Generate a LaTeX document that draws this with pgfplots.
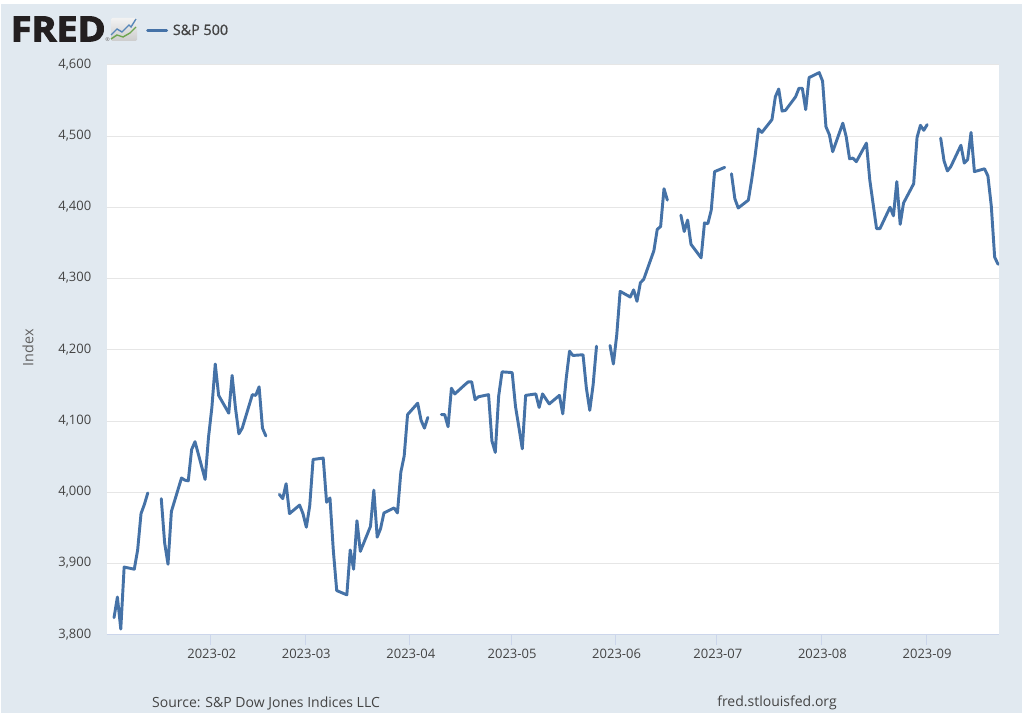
\documentclass[border=0pt]{standalone}
\usepackage{fontspec}
\setmainfont{Open Sans}
\newfontfamily\legendfont{Open Sans}[FakeBold=1.0]
\newfontfamily\logofont{Open Sans Bold}[FakeBold=3]
\usepackage{pgfplots}
\usepackage{pgfplotstable}
\pgfplotsset{compat=1.18}
\usepgfplotslibrary{dateplot}
\definecolor{fredbg}{RGB}{225,233,240}
\definecolor{fredline}{RGB}{69,114,167}
\definecolor{fredaxis}{RGB}{204,214,235}
\definecolor{fredgrid}{RGB}{230,230,230}
\definecolor{fredtext}{RGB}{68,68,68}
\definecolor{fredlogo}{RGB}{35,31,32}
\definecolor{iconblue}{RGB}{88,135,185}
\definecolor{icongreen}{RGB}{110,165,80}

% S&P 500 daily close, nan on market holidays (line breaks there)
\pgfplotstableread{
date close
2023-01-03 3824
2023-01-04 3853
2023-01-05 3808
2023-01-06 3895
2023-01-09 3892
2023-01-10 3919
2023-01-11 3970
2023-01-12 3983
2023-01-13 3999
2023-01-16 nan
2023-01-17 3991
2023-01-18 3929
2023-01-19 3899
2023-01-20 3973
2023-01-23 4020
2023-01-24 4017
2023-01-25 4016
2023-01-26 4060
2023-01-27 4071
2023-01-30 4018
2023-01-31 4077
2023-02-01 4119
2023-02-02 4180
2023-02-03 4136
2023-02-06 4111
2023-02-07 4164
2023-02-08 4118
2023-02-09 4082
2023-02-10 4090
2023-02-13 4137
2023-02-14 4136
2023-02-15 4148
2023-02-16 4090
2023-02-17 4079
2023-02-20 nan
2023-02-21 3997
2023-02-22 3991
2023-02-23 4012
2023-02-24 3970
2023-02-27 3982
2023-02-28 3970
2023-03-01 3951
2023-03-02 3981
2023-03-03 4046
2023-03-06 4048
2023-03-07 3986
2023-03-08 3992
2023-03-09 3918
2023-03-10 3862
2023-03-13 3856
2023-03-14 3919
2023-03-15 3892
2023-03-16 3960
2023-03-17 3917
2023-03-20 3952
2023-03-21 4003
2023-03-22 3937
2023-03-23 3949
2023-03-24 3971
2023-03-27 3978
2023-03-28 3971
2023-03-29 4028
2023-03-30 4051
2023-03-31 4109
2023-04-03 4125
2023-04-04 4101
2023-04-05 4090
2023-04-06 4105
2023-04-07 nan
2023-04-10 4109
2023-04-11 4109
2023-04-12 4092
2023-04-13 4146
2023-04-14 4138
2023-04-17 4151
2023-04-18 4155
2023-04-19 4155
2023-04-20 4130
2023-04-21 4134
2023-04-24 4137
2023-04-25 4072
2023-04-26 4056
2023-04-27 4135
2023-04-28 4169
2023-05-01 4168
2023-05-02 4120
2023-05-03 4091
2023-05-04 4061
2023-05-05 4136
2023-05-08 4138
2023-05-09 4119
2023-05-10 4138
2023-05-11 4131
2023-05-12 4124
2023-05-15 4136
2023-05-16 4110
2023-05-17 4159
2023-05-18 4198
2023-05-19 4192
2023-05-22 4193
2023-05-23 4146
2023-05-24 4115
2023-05-25 4151
2023-05-26 4205
2023-05-29 nan
2023-05-30 4206
2023-05-31 4180
2023-06-01 4221
2023-06-02 4282
2023-06-05 4274
2023-06-06 4284
2023-06-07 4268
2023-06-08 4294
2023-06-09 4299
2023-06-12 4339
2023-06-13 4369
2023-06-14 4373
2023-06-15 4426
2023-06-16 4410
2023-06-19 nan
2023-06-20 4389
2023-06-21 4366
2023-06-22 4382
2023-06-23 4348
2023-06-26 4329
2023-06-27 4378
2023-06-28 4377
2023-06-29 4396
2023-06-30 4450
2023-07-03 4456
2023-07-04 nan
2023-07-05 4447
2023-07-06 4412
2023-07-07 4399
2023-07-10 4410
2023-07-11 4439
2023-07-12 4472
2023-07-13 4510
2023-07-14 4505
2023-07-17 4523
2023-07-18 4555
2023-07-19 4566
2023-07-20 4535
2023-07-21 4536
2023-07-24 4555
2023-07-25 4567
2023-07-26 4567
2023-07-27 4537
2023-07-28 4582
2023-07-31 4589
2023-08-01 4577
2023-08-02 4513
2023-08-03 4502
2023-08-04 4478
2023-08-07 4518
2023-08-08 4499
2023-08-09 4468
2023-08-10 4469
2023-08-11 4464
2023-08-14 4490
2023-08-15 4438
2023-08-16 4404
2023-08-17 4370
2023-08-18 4370
2023-08-21 4400
2023-08-22 4388
2023-08-23 4436
2023-08-24 4376
2023-08-25 4406
2023-08-28 4433
2023-08-29 4498
2023-08-30 4515
2023-08-31 4508
2023-09-01 4516
2023-09-04 nan
2023-09-05 4497
2023-09-06 4465
2023-09-07 4451
2023-09-08 4457
2023-09-11 4487
2023-09-12 4462
2023-09-13 4467
2023-09-14 4505
2023-09-15 4450
2023-09-18 4454
2023-09-19 4444
2023-09-20 4402
2023-09-21 4330
2023-09-22 4320
}\spdata

\begin{document}
% tikz coordinates are image pixels: 1px = 0.75pt, y runs downward
\begin{tikzpicture}[x=0.75pt,y=-0.75pt]
\path[use as bounding box] (0,0) rectangle (1024,717);
\fill[fredbg] (1,4) rectangle (1022,713);

\begin{axis}[
    at={(80.25pt,-476.06pt)},
    anchor=south west,
    scale only axis,
    width=669pt,
    height=427.5pt,
    date coordinates in=x,
    xmin=2022-12-31 22:00,
    xmax=2023-09-22 07:00,
    ymin=3800, ymax=4600,
    % the source draws its ticks a little ahead of the daily points
    xtick={2023-01-31 16:00,2023-02-28 16:00,2023-03-31 16:00,2023-04-30 16:00,2023-05-31 16:00,2023-06-30 16:00,2023-07-31 16:00,2023-08-31 16:00},
    xticklabels={2023-02,2023-03,2023-04,2023-05,2023-06,2023-07,2023-08,2023-09},
    ytick={3800,3900,4000,4100,4200,4300,4400,4500,4600},
    axis x line*=bottom,
    axis y line*=left,
    y axis line style={draw=none},
    x axis line style={draw=fredaxis,line width=0.75pt,-},
    axis background/.style={fill=white},
    ymajorgrids,
    grid style={fredgrid,line width=0.75pt},
    tick align=outside,
    major tick length=7.5pt,
    xtick style={draw=fredaxis,line width=0.75pt},
    ytick style={draw=none},
    tick label style={font=\fontsize{9.75pt}{11pt}\selectfont,text=fredtext},
    xticklabel style={xshift=0.75pt},
    yticklabel style={xshift=-0.75pt,yshift=0.4pt},
    /pgf/number format/assume math mode=true,
    /pgf/number format/1000 sep={,},
    scaled y ticks=false,
    ylabel={Index},
    every axis y label/.style={at={(rel axis cs:-0.0886,0.5035)},rotate=90,anchor=center,
        font=\fontsize{10.75pt}{12pt}\selectfont,text=fredtext!85},
    unbounded coords=jump,
    legend style={at={(rel axis cs:0.0437,1.0596)},anchor=west,draw=none,fill=none,
        inner sep=0pt,font=\fontsize{10.75pt}{12pt}\legendfont\selectfont,text=fredtext},
    legend image code/.code={\draw[#1] (0pt,0pt) -- (14.25pt,0pt);\path (15.75pt,0pt);},
]
\addplot[fredline,line width=2.2pt,line join=round,line cap=round] table[x=date,y=close] {\spdata};
\addlegendentry{S\&P 500}
\end{axis}

% FRED logo
\node[anchor=west,inner sep=0pt,text=fredlogo,xscale=1.09] at (10.5,29)
    {\fontsize{26pt}{27pt}\logofont\selectfont FRED};
\node[anchor=center,inner sep=0pt,text=fredlogo!70,font=\fontsize{4pt}{4pt}\selectfont] at (107.5,40) {®};
\shade[rounded corners=1pt,top color=black!5,bottom color=black!20] (111,18) rectangle (137,41);
\draw[iconblue,line width=1.05pt] (111,35) -- (117,29) -- (122,32) -- (129,25) -- (131,27) -- (136,19);
\draw[icongreen,line width=1.05pt] (111,39) -- (117,35) -- (123,37) -- (130,33) -- (136,27);

\node[anchor=center,inner sep=0pt,text=fredtext,font=\fontsize{10.5pt}{12pt}\selectfont] at (266,703)
    {Source: S\&P Dow Jones Indices LLC};
\node[anchor=center,inner sep=0pt,text=fredtext,font=\fontsize{10.5pt}{12pt}\selectfont] at (777,703)
    {fred.stlouisfed.org};
\end{tikzpicture}
\end{document}
